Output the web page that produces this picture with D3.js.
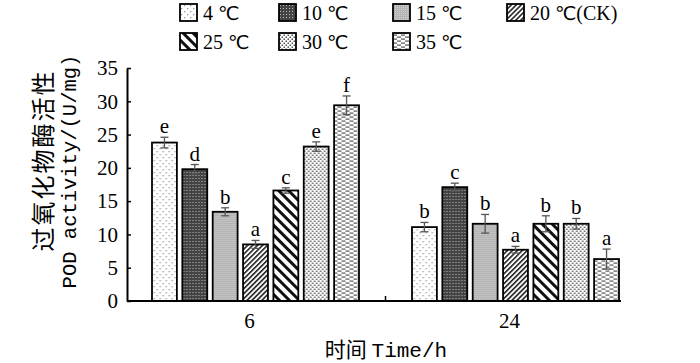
<!DOCTYPE html>
<html>
<head>
<meta charset="utf-8">
<script src="https://cdn.jsdelivr.net/npm/d3@7"></script>
<style>
  body { margin: 0; background: #fff; }
  svg { display: block; }
</style>
</head>
<body>
<div id="chart"></div>
<script>
// POD activity grouped bars, patterned fills
const times = ["6", "24"];
const temps = ["4 ℃", "10 ℃", "15 ℃", "20 ℃(CK)", "25 ℃", "30 ℃", "35 ℃"];
const values6 = [23.8, 19.8, 13.4, 8.5, 16.6, 23.2, 29.4];
const errors6 = [0.8, 0.7, 0.6, 0.6, 0.4, 0.7, 1.4];
const letters6 = ["e", "d", "b", "a", "c", "e", "f"];
const values24 = [11.1, 17.1, 11.6, 7.7, 11.6, 11.6, 6.3];
const errors24 = [0.7, 0.6, 1.4, 0.5, 1.2, 0.8, 1.5];
const letters24 = ["b", "c", "b", "a", "b", "b", "a"];
const yTicks = [0, 5, 10, 15, 20, 25, 30, 35];

const width = 700, height = 363;
const margin = {top: 68, left: 127, bottom: 62};
const plotBottom = height - margin.bottom; // y of zero line

const rows = [
  {time: "6", values: values6, errors: errors6, letters: letters6},
  {time: "24", values: values24, errors: errors24, letters: letters24}
];

const svg = d3.select('#chart')
  .append('svg')
  .attr('width', width)
  .attr('height', height);

const x0 = d3.scaleBand()
  .domain(times)
  .range([125.5, 645.5]);

const x1 = d3.scaleBand()
  .domain(temps)
  .range([26.5, 233.5])
  .paddingInner(0.18);

const y = d3.scaleLinear()
  .domain([0, 35])
  .range([plotBottom, margin.top]);

// patterns
const defs = svg.append('defs');
const patIds = ['p4', 'p10', 'p15', 'p20', 'p25', 'p30', 'p35'];

function pattern(id, w, h, bg, transform) {
  const p = defs.append('pattern')
    .attr('id', id)
    .attr('patternUnits', 'userSpaceOnUse')
    .attr('width', w)
    .attr('height', h);
  if (transform) p.attr('patternTransform', transform);
  p.append('rect').attr('width', w).attr('height', h).attr('fill', bg);
  return p;
}

let p = pattern('p4', 6, 6, '#fff');
p.append('rect').attr('x', 1).attr('y', 1).attr('width', 1.3).attr('height', 1.3).attr('fill', '#999');
p.append('rect').attr('x', 4).attr('y', 4).attr('width', 1.3).attr('height', 1.3).attr('fill', '#999');

p = pattern('p10', 3, 3, '#444');
p.append('rect').attr('x', 1).attr('y', 1).attr('width', 1).attr('height', 1).attr('fill', '#bbb');

p = pattern('p15', 2, 2, '#b4b4b4');
p.append('rect').attr('x', 0).attr('y', 0).attr('width', 1).attr('height', 1).attr('fill', '#cfcfcf');

p = pattern('p20', 3.5, 3.5, '#fff', 'rotate(45)');
p.append('rect').attr('x', 0).attr('y', 0).attr('width', 1.6).attr('height', 3.5).attr('fill', '#222');

p = pattern('p25', 7, 7, '#fff', 'rotate(-45)');
p.append('rect').attr('x', 0).attr('y', 0).attr('width', 3).attr('height', 7).attr('fill', '#111');

p = pattern('p30', 4, 4, '#fff');
p.append('rect').attr('x', 0.5).attr('y', 0.5).attr('width', 1.5).attr('height', 1.5).attr('fill', '#555');
p.append('rect').attr('x', 2.5).attr('y', 2.5).attr('width', 1.5).attr('height', 1.5).attr('fill', '#555');

p = pattern('p35', 8, 4, '#fff');
p.append('rect').attr('x', 0).attr('y', 0.5).attr('width', 4).attr('height', 1.2).attr('fill', '#555');
p.append('rect').attr('x', 4).attr('y', 2.5).attr('width', 4).attr('height', 1.2).attr('fill', '#555');

const fill = d3.scaleOrdinal().domain(temps).range(patIds.map(id => `url(#${id})`));

// bars
const groups = svg.append('g')
  .selectAll('g')
  .data(rows)
  .join('g')
  .attr('transform', d => `translate(${x0(d.time)},0)`);

const items = groups.selectAll('g')
  .data(d => temps.map((t, i) => ({temp: t, value: d.values[i], err: d.errors[i], letter: d.letters[i]})))
  .join('g');

items.append('rect')
  .attr('x', d => x1(d.temp))
  .attr('y', d => y(d.value))
  .attr('width', x1.bandwidth())
  .attr('height', d => y(0) - y(d.value))
  .attr('fill', d => fill(d.temp))
  .attr('stroke', '#000')
  .attr('stroke-width', 1.8);

// error bars
const cx = d => x1(d.temp) + x1.bandwidth() / 2;
const eb = items.append('g')
  .attr('stroke', '#555')
  .attr('stroke-width', 1.3);
eb.append('line')
  .attr('x1', cx).attr('x2', cx)
  .attr('y1', d => y(d.value - d.err)).attr('y2', d => y(d.value + d.err));
eb.append('line')
  .attr('x1', d => cx(d) - 4).attr('x2', d => cx(d) + 4)
  .attr('y1', d => y(d.value + d.err)).attr('y2', d => y(d.value + d.err));
eb.append('line')
  .attr('x1', d => cx(d) - 4).attr('x2', d => cx(d) + 4)
  .attr('y1', d => y(d.value - d.err)).attr('y2', d => y(d.value - d.err));

// significance letters
items.append('text')
  .attr('x', cx)
  .attr('y', d => y(d.value + d.err) - 4)
  .attr('text-anchor', 'middle')
  .style('font', '21px "Liberation Serif", serif')
  .text(d => d.letter);

// y axis
const yAxis = d3.axisLeft(y)
  .tickValues(yTicks)
  .tickSizeInner(-4)
  .tickSizeOuter(0)
  .tickPadding(9);

const gy = svg.append('g')
  .attr('transform', `translate(${margin.left},0)`)
  .call(yAxis);
gy.select('.domain').attr('stroke-width', 2);
gy.selectAll('.tick line').attr('stroke-width', 1.5);
gy.selectAll('.tick text')
  .style('font', '21px "Liberation Serif", serif')
  .attr('fill', '#000');

// x axis
const xEnd = x0(times[1]) + x1(temps[temps.length - 1]) + x1.bandwidth() + 2;
const gx = svg.append('g');
gx.append('line')
  .attr('x1', margin.left).attr('x2', xEnd)
  .attr('y1', y(0)).attr('y2', y(0))
  .attr('stroke', '#000')
  .attr('stroke-width', 2);
const sep = x0(times[1]);
gx.append('line')
  .attr('x1', sep).attr('x2', sep)
  .attr('y1', y(0)).attr('y2', y(0) - 5)
  .attr('stroke', '#000')
  .attr('stroke-width', 1.5);
gx.selectAll('text')
  .data(times)
  .join('text')
  .attr('x', d => x0(d) + x0.bandwidth() / 2 - 6)
  .attr('y', y(0) + 27)
  .attr('text-anchor', 'middle')
  .style('font', '21px "Liberation Serif", serif')
  .text(d => d);

// axis titles
svg.append('text')
  .attr('x', 386)
  .attr('y', 357)
  .attr('text-anchor', 'middle')
  .style('font', '21px "Liberation Mono", monospace')
  .call(t => t.append('tspan').style('font-family', '"Noto Sans CJK SC"').text('时间 '))
  .call(t => t.append('tspan').text('Time/h'));

const yTitle = svg.append('g')
  .attr('transform', `translate(0,${(margin.top + plotBottom) / 2}) rotate(-90)`);
yTitle.append('text')
  .attr('x', 24)
  .attr('y', 52)
  .attr('text-anchor', 'middle')
  .style('font', '400 24px "Noto Sans CJK SC", sans-serif')
  .attr('letter-spacing', 2)
  .text('过氧化物酶活性');
yTitle.append('text')
  .attr('x', 13)
  .attr('y', 76)
  .attr('text-anchor', 'middle')
  .style('font', '20.5px "Liberation Mono", monospace')
  .text('POD activity/(U/mg)');

// legend
const legendCols = [180, 279, 393, 507];
const legendRows = [13, 42];
const legend = svg.append('g')
  .selectAll('g')
  .data(temps)
  .join('g')
  .attr('transform', (d, i) => {
    const r = i < 4 ? 0 : 1;
    const c = i < 4 ? i : i - 4;
    return `translate(${legendCols[c]},${legendRows[r]})`;
  });
legend.append('rect')
  .attr('x', 0).attr('y', -9)
  .attr('width', 17).attr('height', 17)
  .attr('fill', d => fill(d))
  .attr('stroke', '#000')
  .attr('stroke-width', 1.8);
legend.append('text')
  .attr('x', 23)
  .attr('y', 7)
  .style('font', '20px "Liberation Serif", serif')
  .each(function (d) {
    const parts = d.split('℃');
    const t = d3.select(this);
    t.append('tspan').text(parts[0]);
    t.append('tspan').style('font-family', '"DejaVu Sans"').style('font-size', '19px').text('℃');
    if (parts[1]) t.append('tspan').text(parts[1]);
  });
</script>
</body>
</html>
